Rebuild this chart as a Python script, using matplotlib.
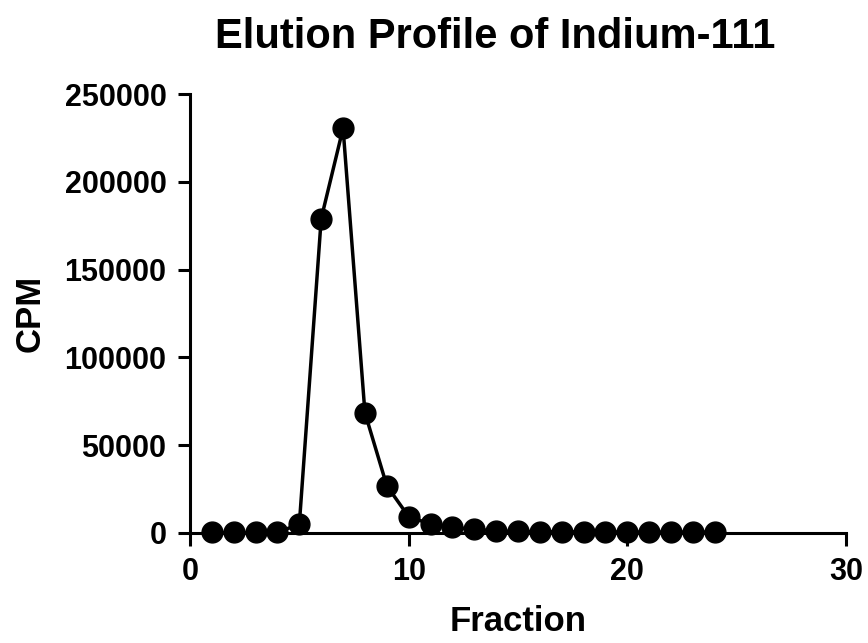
import matplotlib
matplotlib.use("Agg")
import matplotlib.pyplot as plt

fraction = list(range(1, 25))
cpm = [300, 300, 300, 400, 5000, 179000, 230500, 68500, 26900, 9300,
       5100, 3200, 2100, 1200, 900, 800, 700, 700, 700, 600, 600, 600, 600, 600]

x_ticks = [0, 10, 20, 30]
y_ticks = [0, 50000, 100000, 150000, 200000, 250000]

plt.rcParams['font.family'] = ['Liberation Sans', 'DejaVu Sans']
plt.rcParams['font.weight'] = 'bold'

fig = plt.figure(figsize=(8.68, 6.43), dpi=100)
ax = fig.add_axes([190/868, 1-533/643, (846-190)/868, (533-94)/643])

ax.plot(fraction, cpm, color='black', linewidth=2.5, marker='o', markersize=15,
        markerfacecolor='black', markeredgecolor='black', clip_on=False, zorder=3)

ax.set_xlim(0, 30)
ax.set_ylim(0, 250000)
ax.set_xticks(x_ticks)
ax.set_yticks(y_ticks)
ax.set_xticklabels([str(v) for v in x_ticks])
ax.set_yticklabels([str(v) for v in y_ticks])

for s in ['top', 'right']:
    ax.spines[s].set_visible(False)
for s in ['left', 'bottom']:
    ax.spines[s].set_linewidth(2.2)

ax.tick_params(axis='both', direction='out', length=9, width=2.2, labelsize=22)
ax.tick_params(axis='y', pad=8)
ax.tick_params(axis='x', pad=8)
for lab in ax.get_xticklabels() + ax.get_yticklabels():
    lab.set_fontweight('bold')

ax.set_xlabel('Fraction', fontsize=25, fontweight='bold', labelpad=13)
ax.set_ylabel('CPM', fontsize=25, fontweight='bold', labelpad=13)
fig.text(495/868, 1-37/643, 'Elution Profile of Indium-111', fontsize=30, fontweight='bold',
         ha='center', va='center')

fig.savefig('out.png', dpi=100, facecolor='white')
